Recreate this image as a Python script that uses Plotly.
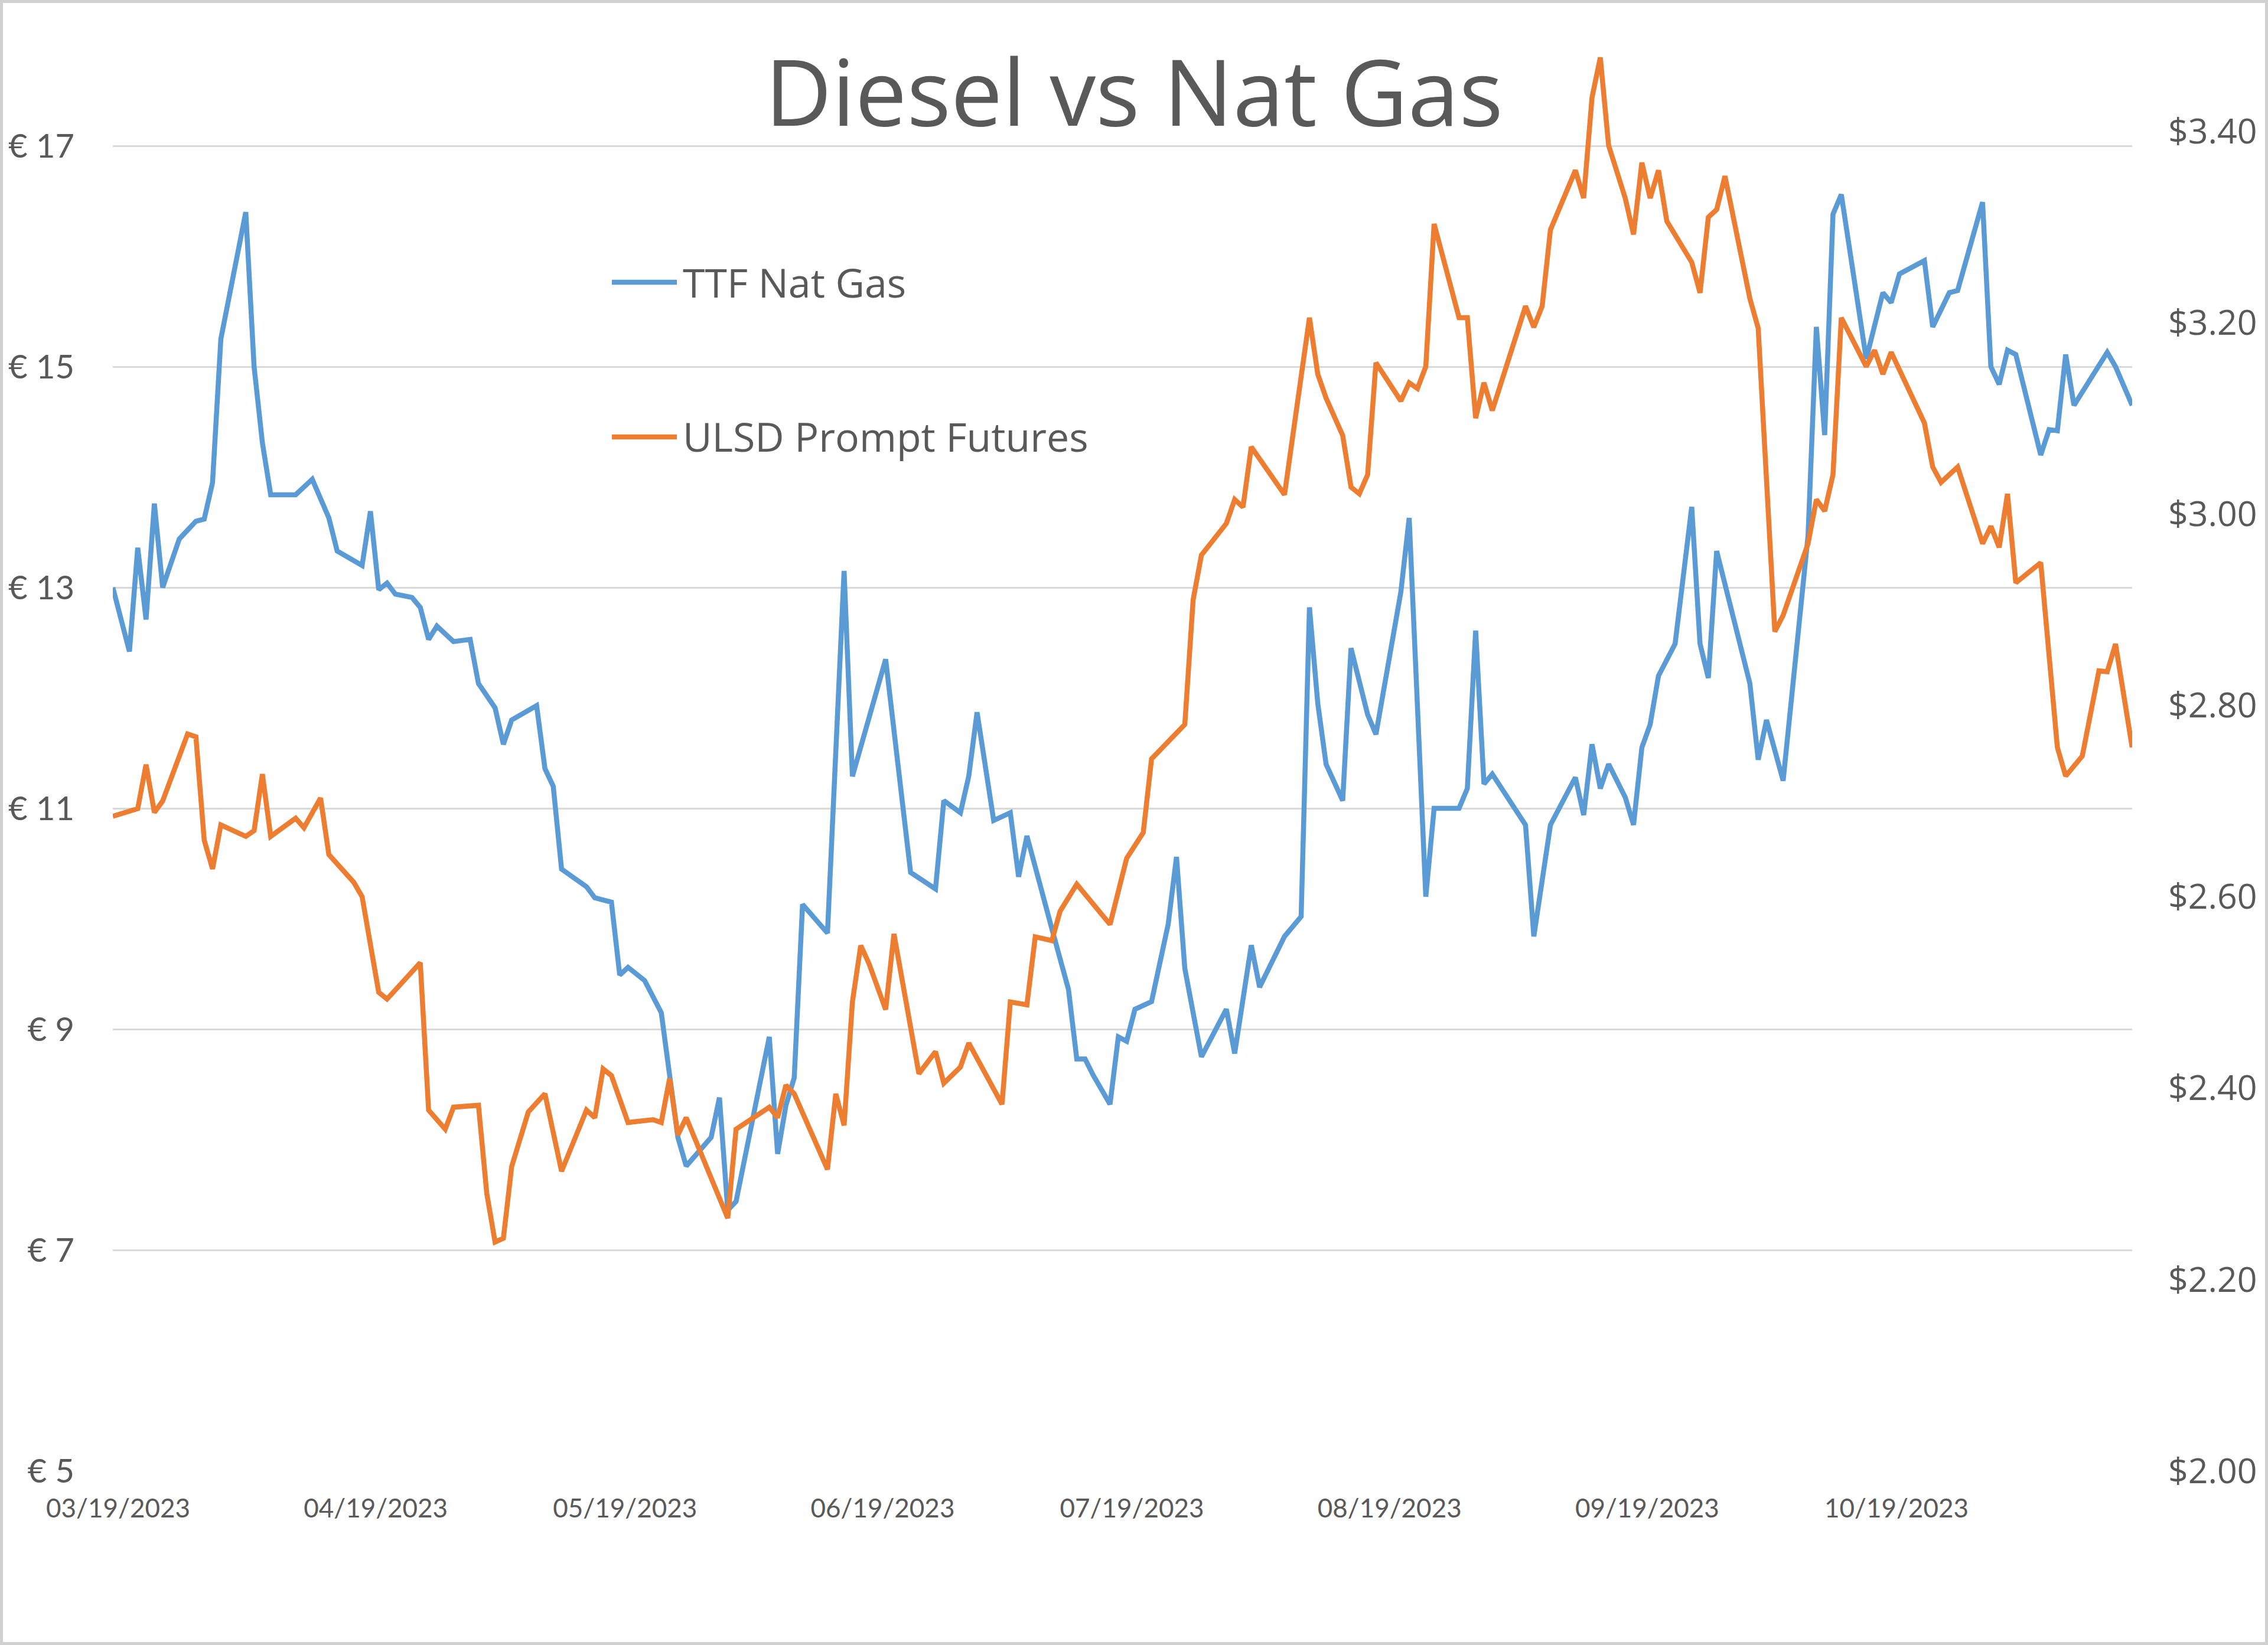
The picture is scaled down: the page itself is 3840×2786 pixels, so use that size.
import pandas as pd
import plotly.graph_objects as go

# ---------------- data ----------------
START_DATE = "2023-03-19"

# TTF Nat Gas (EUR) : day offset from START_DATE and value
ttf_day = [0, 2, 3, 4, 5, 6, 8, 10, 11, 12, 13, 16, 17, 18, 19, 22, 24, 26, 27, 30,
           31, 32, 33, 34, 36, 37, 38, 39, 41, 43, 44, 46, 47, 48, 51, 52, 53, 54, 57, 58,
           60, 61, 62, 64, 66, 67, 68, 69, 72, 73, 74, 75, 76, 79, 80, 81, 82, 83, 86, 87,
           88, 89, 90, 93, 96, 99, 100, 102, 103, 104, 106, 108, 109, 110, 113, 115, 116, 117, 118, 120,
           121, 122, 123, 125, 127, 128, 129, 131, 134, 135, 137, 138, 141, 143, 144, 145, 146, 148, 149, 151,
           152, 155, 156, 158, 159, 162, 163, 164, 165, 166, 170, 171, 173, 176, 177, 178, 179, 180, 182, 183,
           184, 185, 186, 188, 190, 191, 192, 193, 197, 198, 199, 201, 204, 205, 206, 207, 208, 211, 213, 214,
           215, 218, 219, 221, 222, 225, 226, 227, 228, 229, 232, 233, 234, 235, 236, 240, 241, 243]
ttf_eur = [13.00, 12.42, 13.36, 12.71, 13.76, 13.00, 13.44, 13.60, 13.62, 13.95, 15.25, 16.40, 15.00, 14.31, 13.84, 13.84, 13.98, 13.63, 13.33, 13.20,
           13.69, 12.98, 13.04, 12.94, 12.91, 12.82, 12.53, 12.65, 12.51, 12.53, 12.13, 11.91, 11.58, 11.80, 11.93, 11.36, 11.20, 10.45, 10.29, 10.19,
           10.15, 9.49, 9.56, 9.44, 9.15, 8.60, 8.02, 7.76, 8.02, 8.38, 7.36, 7.44, 7.80, 8.93, 7.87, 8.31, 8.56, 10.13, 9.87, 11.47,
           13.15, 11.29, 11.55, 12.35, 10.42, 10.27, 11.07, 10.96, 11.29, 11.87, 10.89, 10.96, 10.38, 10.75, 9.91, 9.36, 8.73, 8.73, 8.58, 8.32,
           8.93, 8.89, 9.18, 9.25, 9.95, 10.56, 9.55, 8.75, 9.18, 8.78, 9.76, 9.38, 9.84, 10.02, 12.82, 11.95, 11.40, 11.07, 12.45, 11.85,
           11.67, 12.96, 13.63, 10.20, 11.00, 11.00, 11.18, 12.61, 11.22, 11.31, 10.85, 9.84, 10.85, 11.28, 10.94, 11.58, 11.18, 11.40, 11.10, 10.85,
           11.55, 11.76, 12.20, 12.49, 13.73, 12.49, 12.18, 13.33, 12.13, 11.44, 11.80, 11.25, 13.47, 15.36, 14.38, 16.38, 16.56, 15.07, 15.67, 15.58,
           15.84, 15.96, 15.36, 15.67, 15.69, 16.49, 15.00, 14.84, 15.15, 15.11, 14.20, 14.43, 14.42, 15.11, 14.65, 15.13, 15.00, 14.65]

# ULSD Prompt Futures (USD) : day offset from START_DATE and value
ulsd_day = [0, 3, 4, 5, 6, 9, 10, 11, 12, 13, 16, 17, 18, 19, 22, 23, 25, 26, 29, 30,
            32, 33, 37, 38, 40, 41, 44, 45, 46, 47, 48, 50, 52, 54, 57, 58, 59, 60, 62, 65,
            66, 67, 68, 69, 74, 75, 79, 80, 81, 82, 86, 87, 88, 89, 90, 91, 93, 94, 97, 99,
            100, 102, 103, 107, 108, 110, 111, 113, 114, 116, 120, 121, 122, 124, 125, 129, 130, 131, 134, 135,
            136, 137, 141, 142, 144, 145, 146, 148, 149, 150, 151, 152, 155, 156, 157, 158, 159, 162, 163, 164,
            165, 166, 170, 171, 172, 173, 176, 177, 178, 179, 180, 182, 183, 184, 185, 186, 187, 190, 191, 192,
            193, 194, 197, 198, 199, 200, 201, 204, 205, 206, 207, 208, 211, 212, 213, 214, 218, 219, 220, 222,
            225, 226, 227, 228, 229, 232, 234, 235, 237, 239, 240, 241, 243]
ulsd_usd = [2.684, 2.692, 2.738, 2.688, 2.700, 2.770, 2.767, 2.659, 2.629, 2.675, 2.663, 2.669, 2.728, 2.663, 2.682, 2.672, 2.703, 2.644, 2.615, 2.600,
            2.500, 2.493, 2.531, 2.377, 2.357, 2.380, 2.382, 2.290, 2.239, 2.243, 2.318, 2.375, 2.394, 2.313, 2.377, 2.369, 2.420, 2.413, 2.364, 2.367,
            2.364, 2.410, 2.351, 2.369, 2.264, 2.357, 2.380, 2.369, 2.403, 2.394, 2.315, 2.394, 2.361, 2.490, 2.549, 2.530, 2.482, 2.561, 2.415, 2.438,
            2.405, 2.422, 2.447, 2.383, 2.490, 2.487, 2.558, 2.554, 2.585, 2.613, 2.571, 2.605, 2.640, 2.667, 2.744, 2.780, 2.910, 2.957, 2.990, 3.015,
            3.007, 3.070, 3.020, 3.082, 3.205, 3.146, 3.121, 3.082, 3.028, 3.021, 3.041, 3.158, 3.118, 3.137, 3.131, 3.154, 3.303, 3.205, 3.205, 3.100,
            3.137, 3.108, 3.217, 3.195, 3.217, 3.297, 3.359, 3.330, 3.435, 3.477, 3.385, 3.330, 3.292, 3.367, 3.330, 3.359, 3.306, 3.263, 3.231, 3.310,
            3.318, 3.353, 3.225, 3.194, 3.028, 2.877, 2.894, 2.969, 3.015, 3.003, 3.041, 3.205, 3.154, 3.171, 3.146, 3.169, 3.095, 3.049, 3.033, 3.049,
            2.969, 2.987, 2.965, 3.021, 2.928, 2.949, 2.756, 2.726, 2.747, 2.836, 2.835, 2.864, 2.756]

x_tick_dates = ["2023-03-19", "2023-04-19", "2023-05-19", "2023-06-19",
                "2023-07-19", "2023-08-19", "2023-09-19", "2023-10-19"]
eur_ticks = [5, 7, 9, 11, 13, 15, 17]
eur_labels = ["€ 5", "€ 7", "€ 9", "€ 11", "€ 13", "€ 15", "€ 17"]
usd_ticks = [2.0, 2.2, 2.4, 2.6, 2.8, 3.0, 3.2, 3.4]
usd_labels = ["$2.00", "$2.20", "$2.40", "$2.60", "$2.80", "$3.00", "$3.20", "$3.40"]

TITLE = "Diesel vs Nat Gas"
NAME_TTF = "TTF Nat Gas"
NAME_ULSD = "ULSD Prompt Futures"

# ---------------- build ----------------
base = pd.Timestamp(START_DATE)
ttf_x = [base + pd.Timedelta(days=d) for d in ttf_day]
ulsd_x = [base + pd.Timedelta(days=d) for d in ulsd_day]
x_end = base + pd.Timedelta(days=max(ttf_day[-1], ulsd_day[-1]))

BLUE = "#5B9BD5"
ORANGE = "#ED7D31"
GRAY = "#595959"
GRID = "#D9D9D9"
LW = 8.5

W, H = 3840, 2786
ML, MR, MT, MB = 191, 230, 60, 295
PW, PH = W - ML - MR, H - MT - MB


def px_to_paper_x(px):
    return (px - ML) / PW


def px_to_paper_y(py):
    return (H - MB - py) / PH


fig = go.Figure()
fig.add_trace(go.Scatter(x=ttf_x, y=ttf_eur, name=NAME_TTF, mode="lines",
                         line=dict(color=BLUE, width=LW), yaxis="y"))
fig.add_trace(go.Scatter(x=ulsd_x, y=ulsd_usd, name=NAME_ULSD, mode="lines",
                         line=dict(color=ORANGE, width=LW), yaxis="y2"))

shapes = [
    # chart-area border
    dict(type="rect", xref="paper", yref="paper",
         x0=px_to_paper_x(2.5), x1=px_to_paper_x(W - 2.5),
         y0=px_to_paper_y(H - 2.5), y1=px_to_paper_y(2.5),
         line=dict(color="#D0D0D0", width=5), layer="below"),
    # legend samples
    dict(type="line", xref="paper", yref="paper",
         x0=px_to_paper_x(1036), x1=px_to_paper_x(1146),
         y0=px_to_paper_y(478), y1=px_to_paper_y(478),
         line=dict(color=BLUE, width=LW)),
    dict(type="line", xref="paper", yref="paper",
         x0=px_to_paper_x(1036), x1=px_to_paper_x(1146),
         y0=px_to_paper_y(740), y1=px_to_paper_y(740),
         line=dict(color=ORANGE, width=LW)),
]

annotations = [
    dict(text=NAME_TTF, xref="paper", yref="paper",
         x=px_to_paper_x(1154), y=px_to_paper_y(477), xanchor="left", yanchor="middle",
         showarrow=False, font=dict(family="Open Sans", size=68, color=GRAY)),
    dict(text=NAME_ULSD, xref="paper", yref="paper",
         x=px_to_paper_x(1154), y=px_to_paper_y(739), xanchor="left", yanchor="middle",
         showarrow=False, font=dict(family="Open Sans", size=68, color=GRAY)),
]

fig.update_layout(
    width=W, height=H,
    margin=dict(l=ML, r=MR, t=MT, b=MB, autoexpand=False),
    paper_bgcolor="white", plot_bgcolor="white",
    showlegend=False,
    title=dict(text=TITLE, x=0.5, xref="container", xanchor="center",
               y=1 - 158 / H, yref="container", yanchor="middle",
               font=dict(family="Open Sans", size=156, color=GRAY)),
    xaxis=dict(type="date", range=[base, x_end],
               tickvals=x_tick_dates, tickformat="%m/%d/%Y",
               showgrid=False, zeroline=False, showline=False, ticks="",
               tickfont=dict(family="Lato", size=44, color=GRAY),
               ticklabelstandoff=34, ticklabelshift=9, automargin=False),
    yaxis=dict(range=[5, 18], tickvals=eur_ticks, ticktext=eur_labels,
               showgrid=True, gridcolor=GRID, gridwidth=2.5,
               zeroline=False, showline=False, ticks="",
               tickfont=dict(family="Lato", size=56, color=GRAY),
               ticklabelstandoff=64, automargin=False),
    yaxis2=dict(range=[2.0, 3.5], tickvals=usd_ticks, ticktext=usd_labels,
                overlaying="y", side="right", showgrid=False, zeroline=False,
                showline=False, ticks="",
                tickfont=dict(family="Open Sans", size=59, color=GRAY),
                ticklabelstandoff=60, automargin=False),
    shapes=shapes,
    annotations=annotations,
)

fig.write_html("out.html",
               config={"displayModeBar": False},
               post_script="document.body.style.margin='0';document.body.style.padding='0';")
